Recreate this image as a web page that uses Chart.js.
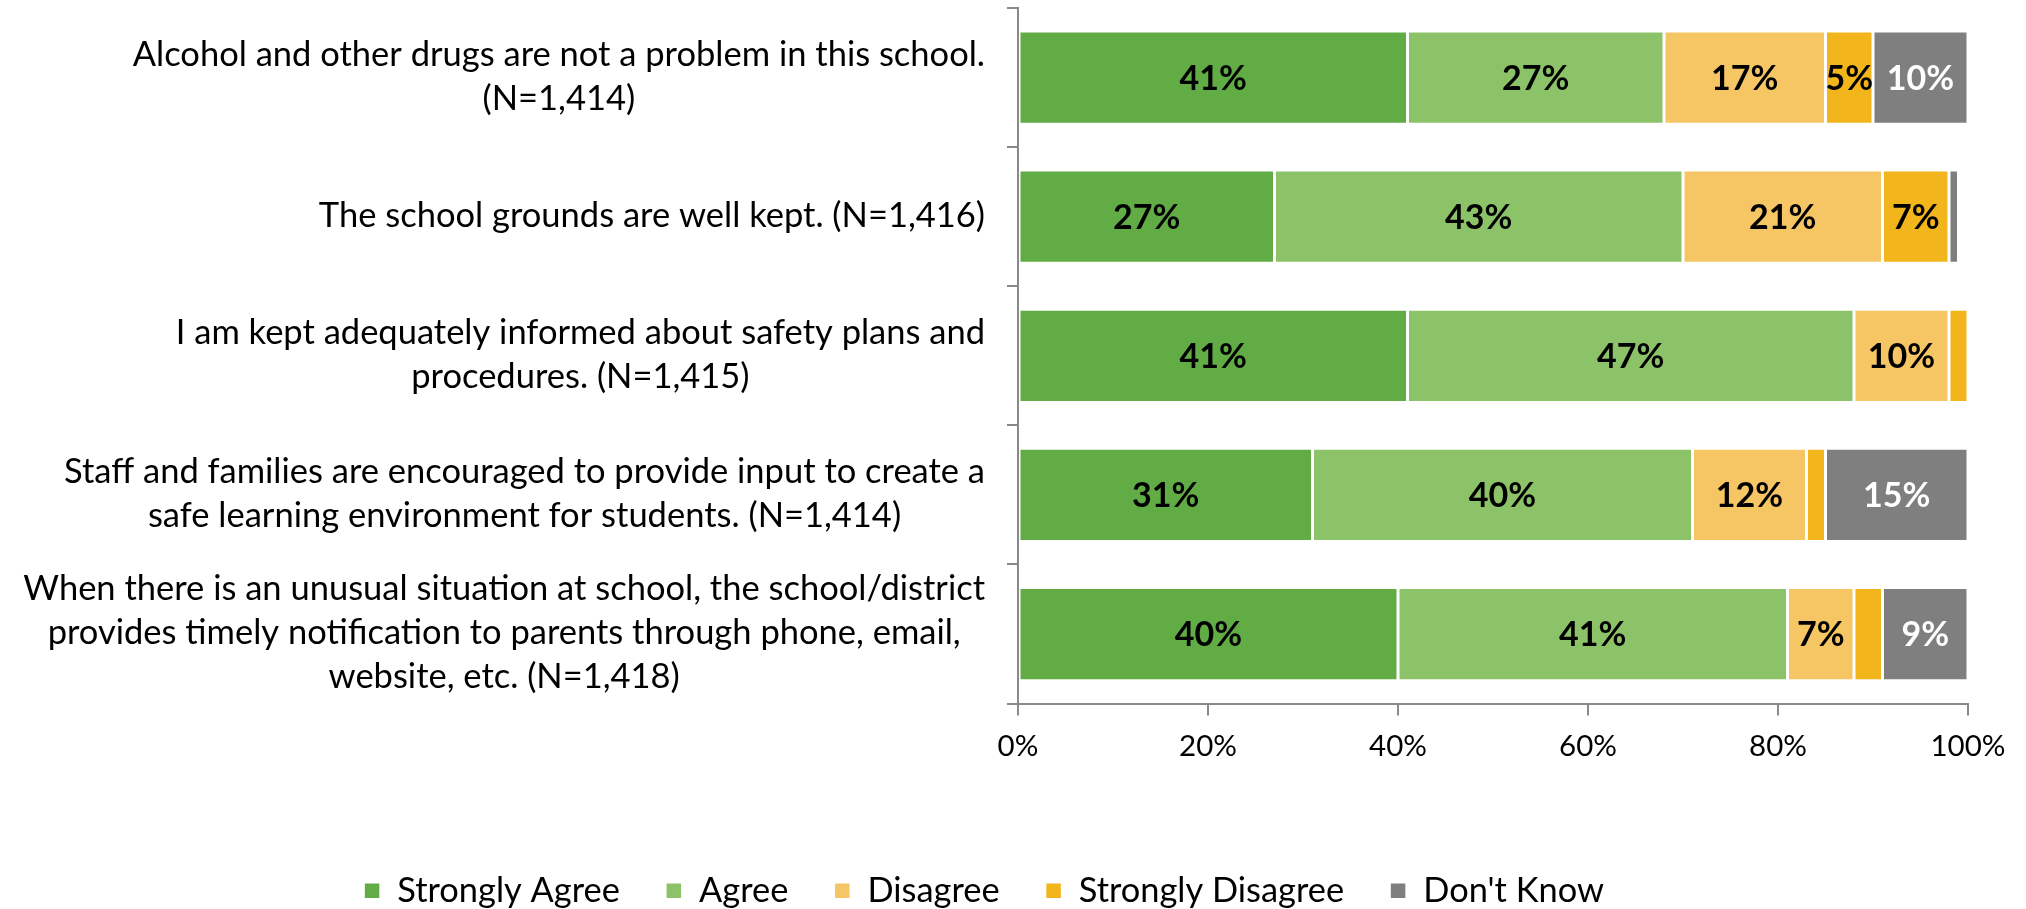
<!DOCTYPE html>
<html>
<head>
<meta charset="utf-8">
<script src="https://cdn.jsdelivr.net/npm/chart.js@4.4.1/dist/chart.umd.min.js"></script>
<style>
  html, body { margin: 0; padding: 0; background: #fff; }
  #wrap { width: 2026px; height: 909px; }
</style>
</head>
<body>
<div id="wrap"><canvas id="surveyChart"></canvas></div>
<script>
// survey statements (each entry = lines of the axis label)
const questions = [
  ["Alcohol and other drugs are not a problem in this school.", "(N=1,414)"],
  ["The school grounds are well kept. (N=1,416)"],
  ["I am kept adequately informed about safety plans and", "procedures. (N=1,415)"],
  ["Staff and families are encouraged to provide input to create a", "safe learning environment for students. (N=1,414)"],
  ["When there is an unusual situation at school, the school/district", "provides timely notification to parents through phone, email,", "website, etc. (N=1,418)"],
];

const seriesNames = ["Strongly Agree", "Agree", "Disagree", "Strongly Disagree", "Don't Know"];
const strongAgree = [41, 27, 41, 31, 40];
const agree = [27, 43, 47, 40, 41];
const disagree = [17, 21, 10, 12, 7];
const strongDisagree = [5, 7, 2, 2, 3];
const dontKnow = [10, 1, 0.3, 15, 9];
const xTicks = [0, 20, 40, 60, 80, 100];

const FONT = "Lato";
const AXIS_GREY = "#898989";
const colors = ["#62ac46", "#8dc368", "#f6c564", "#f2b51c", "#7f7f7f"];
const labelColors = ["#000", "#000", "#000", "#000", "#fff"];

// value labels inside the segments
const segmentLabels = {
  id: "segmentLabels",
  afterDatasetsDraw(chart) {
    const ctx = chart.ctx;
    ctx.save();
    ctx.font = "bold 34px " + FONT;
    ctx.textAlign = "center";
    ctx.textBaseline = "middle";
    chart.data.datasets.forEach((ds, i) => {
      const meta = chart.getDatasetMeta(i);
      meta.data.forEach((bar, j) => {
        const v = ds.data[j];
        if (v < 5) return;
        ctx.fillStyle = labelColors[i];
        ctx.fillText(Math.round(v) + "%", (bar.x + bar.base) / 2, bar.y + 1);
      });
    });
    ctx.restore();
  },
};

// multi-line category labels: block right aligned, lines centred
const questionLabels = {
  id: "questionLabels",
  afterDraw(chart) {
    const ctx = chart.ctx;
    const yScale = chart.scales.y;
    const right = chart.chartArea.left - 33;
    const lineH = 44;
    ctx.save();
    ctx.font = "34.5px " + FONT;
    ctx.fillStyle = "#000";
    ctx.textAlign = "center";
    ctx.textBaseline = "middle";
    questions.forEach((lines, i) => {
      const w = Math.max(...lines.map((l) => ctx.measureText(l).width));
      const cx = right - w / 2;
      const cy = yScale.getPixelForValue(i) - 1;
      const y0 = cy - ((lines.length - 1) * lineH) / 2;
      lines.forEach((l, k) => ctx.fillText(l, cx, y0 + k * lineH));
    });
    ctx.restore();
  },
};

// nudge the legend down a little (it sits lower than the default layout)
const legendNudge = {
  id: "legendNudge",
  afterLayout(chart) {
    if (chart.legend) {
      chart.legend.top += 9;
      chart.legend.bottom += 9;
    }
  },
};

const seriesData = [strongAgree, agree, disagree, strongDisagree, dontKnow];

new Chart(document.getElementById("surveyChart"), {
  type: "bar",
  data: {
    labels: questions,
    datasets: seriesNames.map((name, i) => ({
      label: name,
      data: seriesData[i],
      backgroundColor: colors[i],
      borderColor: "#ffffff",
      borderWidth: 1.5,
      borderSkipped: false,
      barPercentage: 0.67,
      categoryPercentage: 1,
    })),
  },
  options: {
    indexAxis: "y",
    responsive: true,
    maintainAspectRatio: false,
    animation: false,
    layout: { padding: { left: 0, right: 58, top: 8, bottom: 0 } },
    scales: {
      x: {
        stacked: true,
        min: 0,
        max: 100,
        afterBuildTicks: (scale) => {
          scale.ticks = xTicks.map((v) => ({ value: v }));
        },
        afterFit: (scale) => {
          scale.height = 115;
        },
        ticks: {
          callback: (v) => v + "%",
          font: { family: FONT, size: 29.5 },
          color: "#000",
          padding: 13,
          maxRotation: 0,
        },
        grid: {
          drawOnChartArea: false,
          tickLength: 12,
          color: AXIS_GREY,
          lineWidth: 2,
        },
        border: { color: AXIS_GREY, width: 2 },
      },
      y: {
        stacked: true,
        afterFit: (scale) => {
          scale.width = 1018;
        },
        ticks: { display: false },
        grid: {
          offset: true,
          drawOnChartArea: false,
          tickLength: 11,
          color: AXIS_GREY,
          lineWidth: 2,
        },
        border: { color: AXIS_GREY, width: 2 },
      },
    },
    plugins: {
      legend: {
        position: "bottom",
        labels: {
          font: { family: FONT, size: 34.4 },
          color: "#000",
          boxWidth: 16,
          boxHeight: 16,
          padding: 46,
        },
      },
      tooltip: { enabled: false },
    },
  },
  plugins: [segmentLabels, questionLabels, legendNudge],
});
</script>
</body>
</html>
